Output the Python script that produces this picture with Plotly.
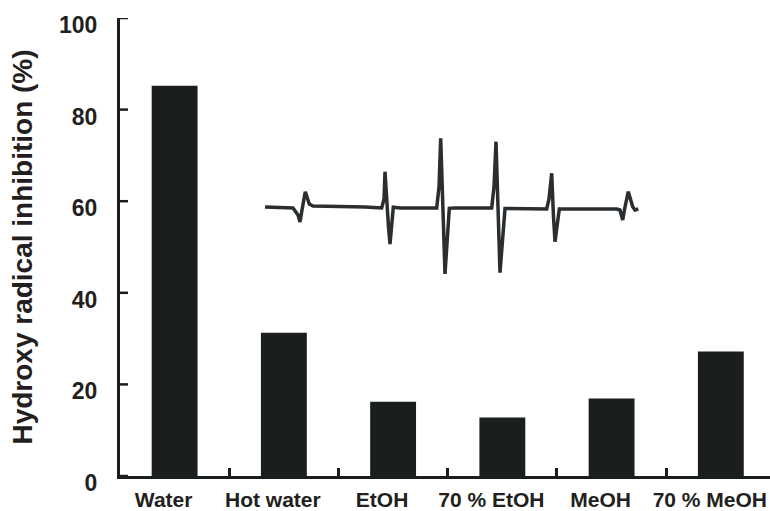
import plotly.graph_objects as go

# ---- data ----
solvents = ["Water", "Hot water", "EtOH", "70 % EtOH", "MeOH", "70 % MeOH"]
inhibition = [85.2, 31.3, 16.2, 12.8, 16.9, 27.2]
y_ticks = [0, 20, 40, 60, 80, 100]

# ESR spectrum inset (field in arbitrary units, signal in arbitrary units)
esr_field = [0, 28, 33, 35, 37, 40.3, 44.3, 48, 100, 116.7,
             119, 120, 123.5, 125, 128.3, 135, 171.7,
             174, 175.7, 178, 180, 184.3, 190, 226.7,
             229, 231, 233, 235, 240, 281.7,
             284, 286.7, 288.5, 290, 294.3, 351.7, 355,
             357.7, 360, 363.3, 367.7, 370, 373.3]
esr_signal = [0, -1, -8, -15, -3, 15.3, 3, 1, 0, -1,
              8, 35.3, -20, -37, -0.3, -1, -1,
              20, 68.7, 0, -67, -1.3, -1, -1,
              20, 65.3, 0, -65.7, -1.5, -2,
              8, 33.7, -10, -34.7, -2, -2, -3,
              -13, 0, 15.3, 0.3, -3, -2]

INK = "#1b1e1f"
FONT = "Liberation Sans, Arial, sans-serif"

fig = go.Figure()
fig.add_trace(go.Bar(x=solvents, y=inhibition, marker=dict(color=INK, line=dict(width=0)),
                     showlegend=False))
fig.add_trace(go.Scatter(x=esr_field, y=esr_signal, xaxis="x2", yaxis="y2", mode="lines",
                         line=dict(color="#2a2e30", width=3.5), showlegend=False))

# inward tick marks on the left axis, one per y tick value
for v in y_ticks:
    fig.add_shape(type="line", xref="paper", xsizemode="pixel", xanchor=0, x0=0, x1=8,
                  yref="y", y0=v, y1=v, line=dict(color=INK, width=2.5), layer="above")

fig.update_layout(
    width=770, height=511,
    margin=dict(l=120, r=0, t=18, b=35),
    paper_bgcolor="white", plot_bgcolor="rgba(0,0,0,0)",
    bargap=0.58,
    font=dict(family=FONT, color="#231f20"),
    xaxis=dict(
        type="category", range=[-0.5, 5.45], automargin=False, tickangle=0,
        showline=True, linewidth=3, linecolor=INK,
        ticks="inside", tickson="boundaries", ticklen=8, tickwidth=2.5, tickcolor=INK,
        tickfont=dict(size=21, family=FONT, weight="bold", color="#231f20"),
        ticklabelstandoff=3, ticklabelshift=-11,
        showgrid=False, zeroline=False, layer="above traces",
    ),
    yaxis=dict(
        range=[0, 100], tickvals=y_ticks, automargin=False,
        showline=True, linewidth=3, linecolor=INK,
        ticks="",
        tickfont=dict(size=23, family=FONT, weight="bold", color="#231f20"),
        ticklabelstandoff=15, ticklabelshift=7,
        showgrid=False, zeroline=False, layer="above traces",
        title=dict(text="Hydroxy radical inhibition (%)",
                   font=dict(size=28, family=FONT, weight="bold", color="#231f20"),
                   standoff=19),
    ),
    xaxis2=dict(anchor="y2", domain=[0, 1], range=[-145, 505], visible=False),
    yaxis2=dict(anchor="x2", domain=[0, 1], range=[-269, 189], visible=False),
)

fig.write_html("out.html", config={"displayModeBar": False},
               post_script="document.body.style.margin='0';")
